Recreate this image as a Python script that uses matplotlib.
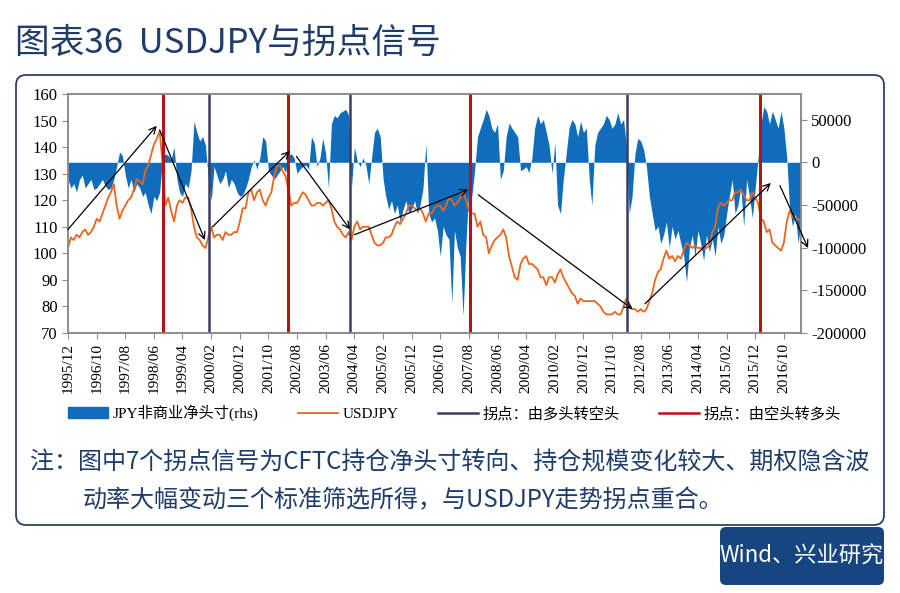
import numpy as np
import pandas as pd
import matplotlib
matplotlib.use("Agg")
import matplotlib.pyplot as plt
import matplotlib.dates as mdates
from matplotlib.patches import FancyBboxPatch, Patch
from matplotlib.lines import Line2D

plt.rcParams['font.family'] = ['Liberation Serif', 'Noto Sans CJK SC']
plt.rcParams['axes.unicode_minus'] = False

# --- 数据（月度，1995/12 - 2017/04） ---
usdjpy = (
    [102]
    + [106, 105, 107, 106, 108, 109, 107, 108, 110, 113, 112, 115]   # 1996
    + [118, 121, 123, 126, 118, 113, 116, 118, 120, 121, 124, 128]   # 1997
    + [127, 126, 131, 133, 137, 141, 143, 146, 134, 118, 121, 116]   # 1998
    + [112, 118, 120, 119, 121, 121, 117, 110, 106, 105, 103, 102]   # 1999
    + [106, 110, 106, 107, 107, 105, 108, 107, 107, 108, 108, 112]   # 2000
    + [117, 117, 123, 124, 120, 123, 124, 120, 118, 121, 123, 129]   # 2001
    + [133, 133, 131, 129, 124, 118, 119, 119, 121, 123, 122, 120]   # 2002
    + [118, 118, 119, 119, 118, 119, 120, 117, 112, 110, 109, 107]   # 2003
    + [106, 108, 105, 110, 112, 109, 110, 110, 110, 107, 104, 103]   # 2004
    + [103, 104, 106, 106, 107, 110, 112, 111, 113, 115, 118, 118]   # 2005
    + [117, 116, 117, 115, 112, 115, 115, 117, 118, 118, 116, 118]   # 2006
    + [121, 120, 118, 119, 121, 123, 120, 116, 115, 115, 110, 112]   # 2007
    + [107, 106, 100, 103, 105, 106, 107, 109, 106, 99, 95, 91]      # 2008
    + [90, 96, 98, 99, 96, 96, 95, 94, 91, 91, 88, 91]               # 2009
    + [91, 89, 92, 94, 91, 89, 87, 85, 84, 81, 83, 82]               # 2010
    + [82, 82, 82, 82, 81, 80, 78, 77, 77, 77, 78, 77]               # 2011
    + [77, 80, 83, 81, 79, 79, 78, 79, 78, 79, 82, 85]               # 2012
    + [90, 93, 94, 98, 101, 98, 99, 97, 99, 98, 101, 104]            # 2013
    + [103, 102, 103, 102, 102, 102, 102, 103, 108, 110, 117, 119]   # 2014
    + [118, 119, 120, 120, 123, 123, 124, 122, 120, 120, 123, 121]   # 2015
    + [119, 113, 112, 108, 109, 104, 103, 102, 101, 104, 112, 116]   # 2016
    + [114, 113, 113, 112]                                           # 2017
)

jpy_net = (
    [-20000]
    + [-30000, -25000, -35000, -20000, -15000, -30000, -25000, -20000, -32000, -30000, -25000, -20000]
    + [-28000, -32000, -30000, -20000, -5000, 12000, 8000, -15000, -30000, -20000, -35000, -25000]
    + [-30000, -40000, -35000, -50000, -60000, -40000, -45000, -35000, 5000, 10000, 8000, 3000]
    + [18000, -20000, -35000, -40000, -25000, -30000, -10000, 48000, 35000, 25000, 30000, 20000]
    + [-20000, -45000, -5000, -15000, -25000, -20000, -10000, -30000, -20000, -25000, -35000, -40000]
    + [-38000, -30000, -20000, -5000, 3000, -8000, 5000, 30000, 25000, -10000, -15000, -20000]
    + [-15000, -10000, -5000, -12000, 8000, 10000, 5000, -13000, -8000, -5000, -3000, -8000]
    + [30000, 22000, -5000, 5000, 28000, 10000, -30000, 45000, 55000, 52000, 58000, 60000]
    + [62000, 55000, -30000, 18000, 2000, -5000, 5000, -3000, -25000, 5000, 35000, 40000]
    + [30000, -20000, -40000, -55000, -45000, -60000, -50000, -70000, -55000, -45000, -60000, -55000]
    + [-45000, -60000, -50000, -30000, 22000, -60000, -70000, -65000, -80000, -110000, -75000, -85000]
    + [-90000, -165000, -80000, -100000, -110000, -180000, -95000, -30000, -40000, -10000, 30000, 40000]
    + [50000, 62000, 55000, 40000, 35000, 45000, -20000, -10000, 30000, 46000, 40000, 35000]
    + [30000, -10000, -8000, -5000, -12000, 5000, 40000, 55000, 45000, 50000, 35000, 20000]
    + [-13000, 23000, -50000, -60000, -20000, 10000, 40000, 50000, 45000, 30000, 48000, 35000]
    + [40000, -20000, -50000, 20000, 35000, 40000, 45000, 55000, 50000, 40000, 45000, 58000]
    + [45000, 50000, 20000, -60000, -40000, 10000, 28000, 25000, 15000, -5000, -40000, -60000]
    + [-80000, -75000, -95000, -85000, -70000, -100000, -75000, -90000, -80000, -95000, -110000, -140000]
    + [-100000, -85000, -110000, -80000, -95000, -115000, -85000, -105000, -90000, -110000, -75000, -95000]
    + [-85000, -60000, -40000, -20000, -60000, -50000, -30000, -75000, -20000, -40000, -65000, -30000]
    + [5000, 45000, 65000, 60000, 45000, 60000, 50000, 40000, 60000, 40000, 5000, -55000]
    + [-75000, -60000, -95000, -70000]
)

# 拐点
bull_to_bear = ['2000-01-05', '2004-02-20', '2012-03-10']   # 由多头转空头
bear_to_bull = ['1998-09-01', '2002-04-25', '2007-08-15', '2016-01-20']  # 由空头转多头

# 箭头：(起点日期, 起点值, 终点日期, 终点值)
arrows = [
    ('1995-12-01', 109, '1998-07-01', 148),
    ('1998-08-01', 146.5, '1999-11-25', 105),
    ('2000-02-15', 110, '2002-05-15', 138.5),
    ('2002-07-25', 136.5, '2004-02-15', 109),
    ('2004-04-01', 107, '2007-07-25', 124),
    ('2007-11-10', 122, '2012-05-05', 79),
    ('2012-09-15', 81, '2016-05-15', 126.5),
    ('2016-08-20', 125.5, '2017-06-15', 102),
]

dates = pd.date_range('1995-12-01', periods=len(usdjpy), freq='MS')
xtick_dates = pd.date_range('1995-12-01', periods=26, freq='10MS')

BLUE = '#0F6DBC'
ORANGE = '#E8671E'
RED = '#B5121B'
NAVY = '#3A3D66'
TXT = '#1F3D6B'

fig = plt.figure(figsize=(9, 5.93), dpi=100)
ax = fig.add_axes([68 / 900, 1 - 333 / 593, (801 - 68) / 900, (333 - 94) / 593])
ax2 = ax.twinx()

# 右轴：净头寸面积
net = np.array(jpy_net, dtype=float)
ax2.fill_between(dates, 0, net, color=BLUE, linewidth=0, interpolate=True)
ax2.set_ylim(-200000, 80000)
ax2.set_yticks(np.arange(-200000, 50001, 50000))

# 左轴：USDJPY
ax.set_zorder(ax2.get_zorder() + 1)
ax.patch.set_visible(False)
ax.plot(dates, usdjpy, color=ORANGE, lw=1.3)
for d in bull_to_bear:
    ax.axvline(pd.Timestamp(d), color=NAVY, lw=1.8)
for d in bear_to_bull:
    ax.axvline(pd.Timestamp(d), color=RED, lw=2.2)
for d0, v0, d1, v1 in arrows:
    ax.annotate('', xy=(mdates.date2num(pd.Timestamp(d1)), v1),
                xytext=(mdates.date2num(pd.Timestamp(d0)), v0),
                arrowprops=dict(arrowstyle='->', color='black', lw=0.9,
                                shrinkA=0, shrinkB=0, mutation_scale=12),
                annotation_clip=False)

ax.set_ylim(70, 160)
ax.set_yticks(range(70, 161, 10))
ax.set_xlim(dates[0], dates[-1])
ax.set_xticks(xtick_dates)
ax.set_xticklabels([d.strftime('%Y/%m') for d in xtick_dates], rotation=90)

for a in (ax, ax2):
    for s in a.spines.values():
        s.set_color('#8C8C8C')
        s.set_linewidth(1.2)
    a.tick_params(colors='#8C8C8C', labelcolor='black', labelsize=12, length=4)
ax.tick_params(axis='x', labelsize=11)

handles = [
    Patch(facecolor=BLUE, edgecolor=BLUE),
    Line2D([], [], color=ORANGE, lw=1.3),
    Line2D([], [], color=NAVY, lw=1.8),
    Line2D([], [], color=RED, lw=1.8),
]
labels = ['JPY非商业净头寸(rhs)', 'USDJPY', '拐点：由多头转空头', '拐点：由空头转多头']
fig.legend(handles, labels, loc='center', bbox_to_anchor=(0.505, 1 - 413 / 593),
           ncol=4, frameon=False, fontsize=11, handlelength=2.6,
           handletextpad=0.3, columnspacing=2.6)

# 标题
fig.text(15 / 900, 1 - 43 / 593, '图表36  USDJPY与拐点信号', fontsize=25,
         color=TXT, va='center', ha='left', weight='medium',
         family=['Noto Sans CJK SC'])

# 外框
box = FancyBboxPatch((0.16, 0.68), 8.68, 4.50, boxstyle='round,pad=0,rounding_size=0.1',
                     transform=fig.dpi_scale_trans, facecolor='none',
                     edgecolor='#1E3656', lw=1.2)
fig.patches.append(box)

# 注释
note_font = ['Noto Sans CJK SC']
fig.text(30 / 900, 1 - 463 / 593, '注：图中7个拐点信号为CFTC持仓净头寸转向、持仓规模变化较大、期权隐含波',
         fontsize=17.3, color=TXT, va='center', ha='left', family=note_font)
fig.text(83 / 900, 1 - 500 / 593, '动率大幅变动三个标准筛选所得，与USDJPY走势拐点重合。',
         fontsize=17.3, color=TXT, va='center', ha='left', family=note_font)

# 来源
src = FancyBboxPatch((7.20, 0.08), 1.64, 0.58, boxstyle='round,pad=0,rounding_size=0.06',
                     transform=fig.dpi_scale_trans, facecolor='#17457F', edgecolor='none')
fig.patches.append(src)
fig.text((7.20 + 0.82) / 9, (0.08 + 0.29) / 5.93, 'Wind、兴业研究', fontsize=16,
         color='white', va='center', ha='center', family=note_font)

fig.savefig('out.png', dpi=100)
